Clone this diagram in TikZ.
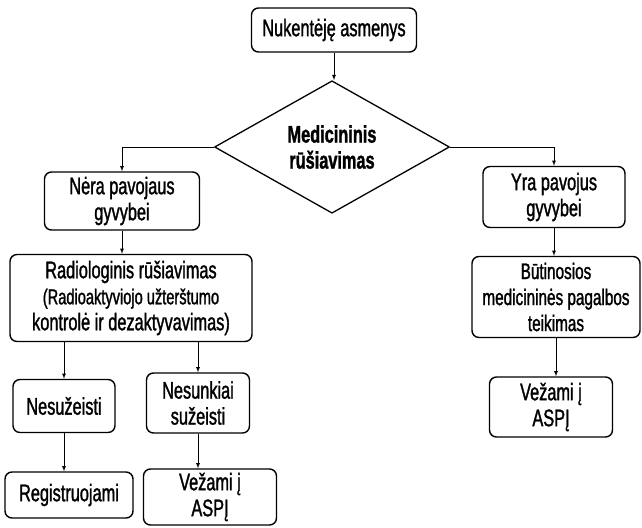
\documentclass[tikz,border=0pt]{standalone}
\usepackage{fontspec}
\setmainfont[FakeStretch=0.68, FakeBold=1.3]{Liberation Sans}
\usetikzlibrary{shapes.geometric}

\begin{document}
\begin{tikzpicture}[x=1pt, y=-1pt, every text node part/.style={align=center},
        box/.style={draw=black, line width=1.4pt, rounded corners=7pt, inner sep=2pt, font=\fontsize{24}{26}\selectfont},
        decision/.style={diamond, draw=black, line width=1.3pt, inner sep=0pt, minimum width=235pt, minimum height=108pt, font=\bfseries\fontsize{24}{26}\selectfont},
        link/.style={->, >=latex, line width=0.8pt}]
        \useasboundingbox (0, 0) rectangle (642, 527);

        \node(victims) at (334, 30)[box, minimum width=165pt, minimum height=44pt]{Nukentėję asmenys};
        \node(triage) at (332, 147)[decision]{Medicininis\\rūšiavimas};

        \node(nodanger) at (122, 201)[box, minimum width=155pt, minimum height=58pt]{Nėra pavojaus\\gyvybei};
        \node(radio) at (131, 298)[box, minimum width=242pt, minimum height=87pt]{Radiologinis rūšiavimas\\\fontsize{21.5}{23}\selectfont(Radioaktyviojo užterštumo\\kontrolė ir dezaktyvavimas)};
        \node(unhurt) at (64, 406)[box, minimum width=102pt, minimum height=53pt]{Nesužeisti};
        \node(light) at (198, 403)[box, minimum width=103pt, minimum height=60pt]{Nesunkiai\\sužeisti};
        \node(register) at (69, 495)[box, minimum width=128pt, minimum height=46pt]{Registruojami};
        \node(hospleft) at (210, 497)[box, minimum width=133pt, minimum height=56pt]{Vežami į\\ASPĮ};

        \node(danger) at (554, 197)[box, minimum width=142pt, minimum height=61pt]{Yra pavojus\\gyvybei};
        \node(firstaid) at (556, 297)[box, minimum width=168pt, minimum height=81pt, font=\fontsize{22.5}{26}\selectfont]{Būtinosios\\medicininės pagalbos\\teikimas};
        \node(hospright) at (551, 407)[box, minimum width=123pt, minimum height=60pt]{Vežami į\\ASPĮ};

        \draw[link](victims.south) -- (victims.south |- triage.north);
        \draw[link](triage.west) -| (nodanger.north);
        \draw[link](triage.east) -| (danger.north);
        \draw[link](nodanger.south) -- (nodanger.south |- radio.north);
        \draw[link](unhurt.north |- radio.south) -- (unhurt.north);
        \draw[link](light.north |- radio.south) -- (light.north);
        \draw[link](unhurt.south) -- (unhurt.south |- register.north);
        \draw[link](light.south) -- (light.south |- hospleft.north);
        \draw[link](danger.south) -- (danger.south |- firstaid.north);
        \draw[link](firstaid.south) -- (firstaid.south |- hospright.north);

    \end{tikzpicture}
\end{document}
